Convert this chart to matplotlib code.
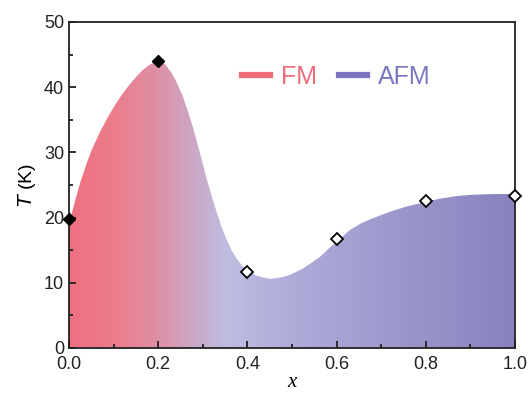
import numpy as np
import matplotlib.pyplot as plt
from matplotlib.colors import LinearSegmentedColormap
from matplotlib.patches import Polygon
from matplotlib.lines import Line2D
from matplotlib.ticker import MultipleLocator

plt.rcParams['font.family'] = ['Liberation Sans', 'DejaVu Sans']

# measured points
x_fm = [0.0, 0.2]
t_fm = [19.7, 44.0]
x_afm = [0.4, 0.6, 0.8, 1.0]
t_afm = [11.6, 16.7, 22.5, 23.3]

# boundary of the shaded region
x_edge = [0.0, 0.006, 0.015, 0.025, 0.038, 0.051, 0.070, 0.088, 0.100, 0.115,
          0.130, 0.143, 0.155, 0.165, 0.178, 0.190, 0.198, 0.206, 0.215, 0.228,
          0.238, 0.254, 0.268, 0.280, 0.290, 0.300, 0.310, 0.322, 0.333, 0.342,
          0.352, 0.365, 0.378, 0.391, 0.405, 0.420, 0.435, 0.451, 0.465, 0.480,
          0.495, 0.510, 0.525, 0.540, 0.563, 0.585, 0.608, 0.630, 0.652, 0.667,
          0.682, 0.700, 0.720, 0.757, 0.800, 0.832, 0.870, 0.906, 0.950, 1.0]
t_edge = [19.0, 20.6, 22.9, 25.3, 28.0, 30.4, 33.2, 35.5, 36.9, 38.5,
          39.9, 41.0, 41.9, 42.6, 43.3, 43.8, 44.0, 43.9, 43.5, 42.4,
          41.2, 38.8, 36.0, 33.3, 30.8, 28.2, 25.6, 22.8, 20.4, 18.6,
          16.8, 14.9, 13.5, 12.4, 11.7, 11.1, 10.8, 10.6, 10.7, 10.9,
          11.2, 11.7, 12.2, 12.9, 14.0, 15.4, 16.8, 18.1, 19.0, 19.5,
          19.9, 20.4, 20.9, 21.7, 22.4, 22.9, 23.3, 23.5, 23.6, 23.6]

# gradient stops (position along x, colour)
grad_pos = [0.0, 0.1, 0.2, 0.27, 0.35, 0.5, 1.0]
grad_col = ['#ef7080', '#ec7d8c', '#de91a5', '#cda5c3', '#bebde0', '#afacda', '#8782be']

fig, ax = plt.subplots(figsize=(5.31, 3.99), dpi=100)
fig.subplots_adjust(left=0.130, right=0.970, bottom=0.128, top=0.945)

cmap = LinearSegmentedColormap.from_list('fm_afm', list(zip(grad_pos, grad_col)))
grad = np.linspace(0, 1, 512).reshape(1, -1)
img = ax.imshow(grad, cmap=cmap, extent=[0, 1, 0, 50], aspect='auto',
                origin='lower', zorder=1)
poly = Polygon(list(zip(x_edge, t_edge)) + [(1.0, 0.0), (0.0, 0.0)],
               closed=True, facecolor='none', edgecolor='none')
ax.add_patch(poly)
img.set_clip_path(poly)

ax.plot(x_fm, t_fm, linestyle='none', marker='D', ms=6, mfc='black',
        mec='black', clip_on=False, zorder=5)
ax.plot(x_afm, t_afm, linestyle='none', marker='D', ms=6, mfc='white',
        mec='black', mew=1.3, clip_on=False, zorder=5)

ax.set_xlim(0, 1)
ax.set_ylim(0, 50)
ax.xaxis.set_major_locator(MultipleLocator(0.2))
ax.xaxis.set_minor_locator(MultipleLocator(0.1))
ax.yaxis.set_major_locator(MultipleLocator(10))
ax.yaxis.set_minor_locator(MultipleLocator(5))
ax.xaxis.set_major_formatter(plt.FormatStrFormatter('%.1f'))
ax.tick_params(which='both', direction='in', top=False, right=False,
               labelsize=13, width=1.3, colors='#222222')
ax.tick_params(axis='x', pad=6)
ax.tick_params(which='major', length=5)
ax.tick_params(which='minor', length=3)
for s in ax.spines.values():
    s.set_linewidth(1.3)
    s.set_color('#222222')

ax.set_xlabel('x', fontsize=15, fontstyle='italic', family='Liberation Serif',
              labelpad=0)
ax.set_ylabel('$T$ (K)', fontsize=14, labelpad=4)

handles = [Line2D([], [], color='#ee6c7c', lw=4.5),
           Line2D([], [], color='#7a76c0', lw=4.5)]
leg = ax.legend(handles, ['FM', 'AFM'], loc='center left',
                bbox_to_anchor=(0.388, 0.831), borderaxespad=0, borderpad=0,
                ncol=2, frameon=False, fontsize=18, handlelength=1.1,
                columnspacing=0.9, handletextpad=0.45)
for txt, c in zip(leg.get_texts(), ['#ee6c7c', '#7a76c0']):
    txt.set_color(c)

fig.savefig('out.png', dpi=100)
